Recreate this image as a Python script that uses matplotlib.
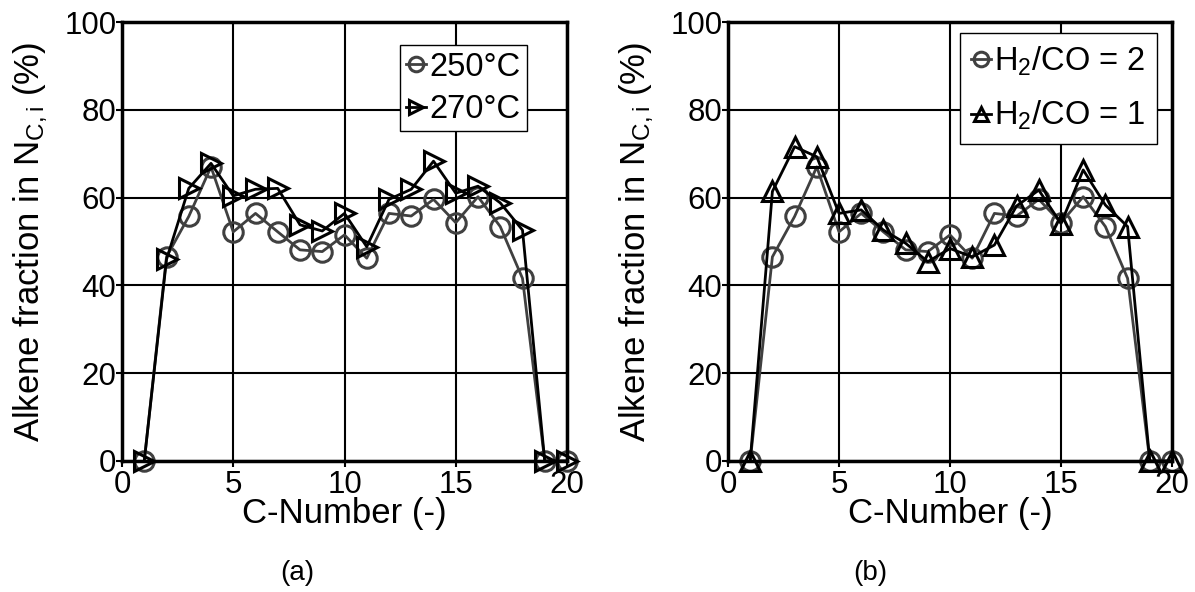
import matplotlib
matplotlib.use("Agg")
import matplotlib.pyplot as plt

plt.rcParams['font.family'] = ['Liberation Sans', 'DejaVu Sans']
plt.rcParams['mathtext.fontset'] = 'custom'
plt.rcParams['mathtext.rm'] = 'Liberation Sans'
plt.rcParams['mathtext.it'] = 'Liberation Sans'

c_number = [1, 2, 3, 4, 5, 6, 7, 8, 9, 10, 11, 12, 13, 14, 15, 16, 17, 18, 19, 20]
alkene_250 = [0, 46.5, 55.7, 67.0, 52.2, 56.4, 52.2, 48.1, 47.7, 51.5, 46.2, 56.4, 55.8, 59.6, 54.3, 60.2, 53.4, 41.6, 0, 0]
alkene_270 = [0, 45.9, 62.1, 67.8, 60.4, 61.9, 62.1, 53.8, 52.4, 56.4, 48.8, 59.6, 61.9, 68.3, 61.0, 62.6, 58.8, 52.6, 0, 0]
alkene_h2co2 = alkene_250
alkene_h2co1 = [0, 61.4, 71.6, 69.3, 56.4, 57.2, 52.6, 49.6, 45.4, 48.4, 46.5, 49.2, 58.1, 61.7, 54.1, 66.3, 58.3, 53.4, 0, 0]

x_ticks = [0, 5, 10, 15, 20]
y_ticks = [0, 20, 40, 60, 80, 100]

fig = plt.figure(figsize=(11.95, 5.92), dpi=100)
ax1 = fig.add_axes([122/1195, 1-461/592, 445/1195, 439/592])
ax2 = fig.add_axes([728/1195, 1-461/592, 444/1195, 439/592])

TFS = 22.5
LFS = 25
LEGFS = 23.5
gray = '#404040'

def style(ax):
    ax.set_xlim(0, 20)
    ax.set_ylim(0, 100)
    ax.set_xticks(x_ticks)
    ax.set_yticks(y_ticks)
    ax.grid(True, color='black', linewidth=1.5)
    ax.set_axisbelow(True)
    for s in ax.spines.values():
        s.set_linewidth(2.5)
    ax.tick_params(direction='out', length=4, width=1.5, labelsize=TFS, pad=0)
    ax.tick_params(axis='x', pad=2.5)
    ax.set_xlabel('C-Number (-)', fontsize=LFS, labelpad=-2)
    ax.set_ylabel('Alkene fraction in N$_{\\mathregular{C,i}}$ (%)', fontsize=LFS, labelpad=10)

style(ax1)
ax1.plot(c_number, alkene_250, color=gray, linewidth=2, marker='o', markersize=14,
         markerfacecolor='none', markeredgecolor=gray, markeredgewidth=2.2, clip_on=False,
         label='250°C')
ax1.plot(c_number, alkene_270, color='black', linewidth=2, marker='>', markersize=14,
         markerfacecolor='none', markeredgecolor='black', markeredgewidth=2.2, clip_on=False,
         label='270°C')
leg1 = ax1.legend(loc='upper right', bbox_to_anchor=((527-122)/445, (461-45)/439),
                  fontsize=LEGFS, frameon=True, fancybox=False, framealpha=1,
                  handlelength=0.6, handletextpad=0.1, borderpad=0.2, labelspacing=0.35,
                  borderaxespad=0, markerscale=0.75)
leg1.get_frame().set_edgecolor('black')
leg1.get_frame().set_linewidth(1.0)

style(ax2)
ax2.plot(c_number, alkene_h2co2, color=gray, linewidth=2, marker='o', markersize=14,
         markerfacecolor='none', markeredgecolor=gray, markeredgewidth=2.2, clip_on=False,
         label='H$_{\\mathregular{2}}$/CO = 2')
ax2.plot(c_number, alkene_h2co1, color='black', linewidth=2, marker='^', markersize=14,
         markerfacecolor='none', markeredgecolor='black', markeredgewidth=2.2, clip_on=False,
         label='H$_{\\mathregular{2}}$/CO = 1')
leg2 = ax2.legend(loc='upper right', bbox_to_anchor=((1157-728)/444, (461-33)/439),
                  fontsize=LEGFS, frameon=True, fancybox=False, framealpha=1,
                  handlelength=0.6, handletextpad=0.1, borderpad=0.35, labelspacing=0.65,
                  borderaxespad=0, markerscale=0.75)
leg2.get_frame().set_edgecolor('black')
leg2.get_frame().set_linewidth(1.0)

fig.text(297/1195, 1-573/592, '(a)', fontsize=20, ha='center', va='center')
fig.text(870/1195, 1-573/592, '(b)', fontsize=20, ha='center', va='center')

fig.savefig('out.png', dpi=100)
